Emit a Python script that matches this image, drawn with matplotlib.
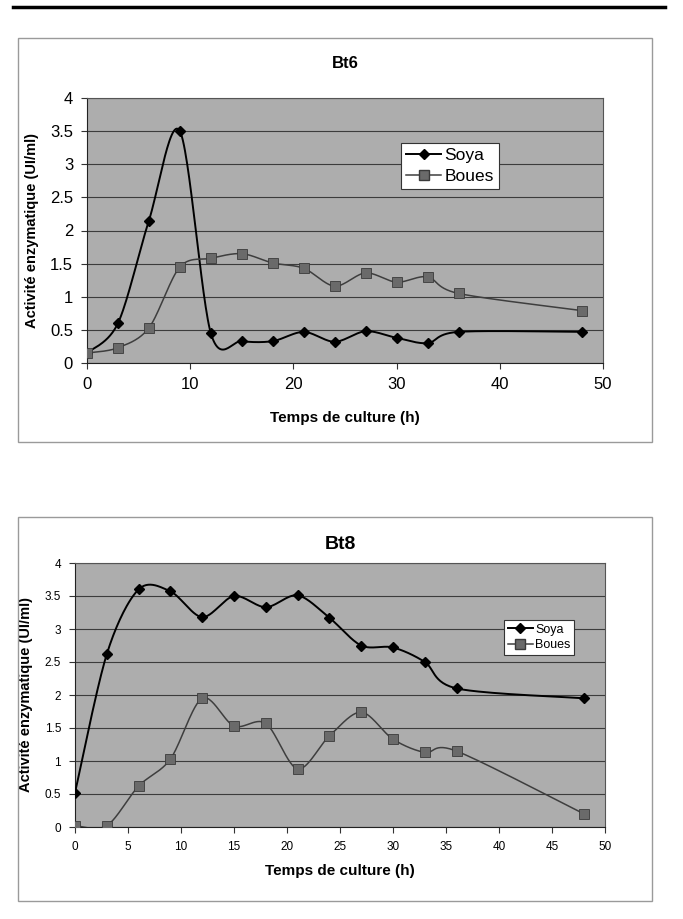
import numpy as np
import matplotlib
matplotlib.use("Agg")
import matplotlib.pyplot as plt
from matplotlib.patches import Rectangle
from matplotlib.lines import Line2D

plt.rcParams['font.family'] = ['Liberation Sans', 'DejaVu Sans']

# temps de culture (h)
hours = [0, 3, 6, 9, 12, 15, 18, 21, 24, 27, 30, 33, 36, 48]

# Bt6
bt6_soya = [0.15, 0.60, 2.15, 3.50, 0.45, 0.33, 0.33, 0.47, 0.32, 0.48, 0.38, 0.30, 0.47, 0.47]
bt6_boues = [0.15, 0.23, 0.53, 1.45, 1.58, 1.65, 1.51, 1.43, 1.16, 1.36, 1.22, 1.30, 1.05, 0.79]

# Bt8
bt8_soya = [0.52, 2.62, 3.60, 3.57, 3.18, 3.50, 3.33, 3.51, 3.17, 2.75, 2.72, 2.50, 2.10, 1.95]
bt8_boues = [0.02, 0.02, 0.62, 1.03, 1.95, 1.53, 1.57, 0.88, 1.38, 1.74, 1.33, 1.13, 1.15, 0.20]

series_names = ['Soya', 'Boues']
y_ticks = [0, 0.5, 1, 1.5, 2, 2.5, 3, 3.5, 4]
y_ticklabels = ['0', '0.5', '1', '1.5', '2', '2.5', '3', '3.5', '4']


def smooth(x, y, n=30):
    # courbe lissée type Excel (Bezier / Catmull-Rom)
    x = np.asarray(x, float)
    y = np.asarray(y, float)
    px = np.concatenate([[x[0]], x, [x[-1]]])
    py = np.concatenate([[y[0]], y, [y[-1]]])
    xs, ys = [], []
    t = np.linspace(0, 1, n)
    k = 1 / 6.5
    for i in range(1, len(px) - 2):
        p0x, p1x, p2x, p3x = px[i], px[i] + (px[i+1] - px[i-1]) * k, px[i+1] - (px[i+2] - px[i]) * k, px[i+1]
        p0y, p1y, p2y, p3y = py[i], py[i] + (py[i+1] - py[i-1]) * k, py[i+1] - (py[i+2] - py[i]) * k, py[i+1]
        b0 = (1 - t) ** 3
        b1 = 3 * (1 - t) ** 2 * t
        b2 = 3 * (1 - t) * t ** 2
        b3 = t ** 3
        xs.append(b0 * p0x + b1 * p1x + b2 * p2x + b3 * p3x)
        ys.append(b0 * p0y + b1 * p1y + b2 * p2y + b3 * p3y)
    return np.concatenate(xs), np.concatenate(ys)


fig = plt.figure(figsize=(6.83, 9.19), dpi=100)

# trait en haut de page
fig.add_artist(Line2D([13 / 683, 665 / 683], [1 - 7 / 919, 1 - 7 / 919], color='black', lw=2.5))

# cadres des graphiques
fig.add_artist(Rectangle((18 / 683, 1 - 442 / 919), 634 / 683, 404 / 919, fill=False, ec='#9a9a9a', lw=1))
fig.add_artist(Rectangle((18 / 683, 1 - 901 / 919), 634 / 683, 384 / 919, fill=False, ec='#9a9a9a', lw=1))


def draw(ax, soya, boues, title, xticks, tick_fs, title_fs, leg_fs, leg_bbox, title_y, xpad):
    ax.set_facecolor('#adadad')
    xs, ys = smooth(hours, soya)
    ax.plot(xs, ys, color='black', lw=1.4, zorder=3)
    ax.plot(hours, soya, ls='none', marker='D', ms=5, color='black', zorder=4)
    xb, yb = smooth(hours, boues)
    ax.plot(xb, yb, color='#3e3e3e', lw=1.1, zorder=3)
    ax.plot(hours, boues, ls='none', marker='s', ms=6.5, mfc='#6a6a6a', mec='#3a3a3a', mew=0.6, zorder=4)

    ax.set_xlim(0, 50)
    ax.set_ylim(0, 4)
    ax.set_xticks(xticks)
    ax.set_xticklabels([str(v) for v in xticks], fontsize=tick_fs)
    ax.set_yticks(y_ticks)
    ax.set_yticklabels(y_ticklabels, fontsize=tick_fs)
    ax.tick_params(direction='out', length=4, width=0.8, color='#333333', pad=6)
    ax.yaxis.grid(True, color='#3c3c3c', lw=0.8)
    ax.set_axisbelow(True)
    for s in ['left', 'bottom']:
        ax.spines[s].set_color('#222222')
    for s in ['top', 'right']:
        ax.spines[s].set_color('#555555')

    ax.set_xlabel('Temps de culture (h)', fontsize=11, fontweight='bold', labelpad=xpad)
    ax.set_ylabel('Activité enzymatique (UI/ml)', fontsize=10.5, fontweight='bold', labelpad=8)
    ax.set_title(title, fontsize=title_fs, fontweight='bold', y=title_y)

    handles = [
        Line2D([], [], color='black', lw=1.4, marker='D', ms=5),
        Line2D([], [], color='#3e3e3e', lw=1.1, marker='s', ms=6.5, mfc='#6a6a6a', mec='#3a3a3a'),
    ]
    leg = ax.legend(handles, series_names, loc='upper left', bbox_to_anchor=leg_bbox,
                    fontsize=leg_fs, frameon=True, fancybox=False, framealpha=1,
                    edgecolor='#333333', handlelength=2.0, handletextpad=0.2,
                    borderpad=0.3, labelspacing=0.3, borderaxespad=0)
    leg.get_frame().set_linewidth(0.8)


ax1 = fig.add_axes([87 / 683, 1 - 363 / 919, 516 / 683, 265 / 919])
draw(ax1, bt6_soya, bt6_boues, 'Bt6', [0, 10, 20, 30, 40, 50], 12, 12, 12.5,
     ((401 - 87) / 516, (363 - 143) / 265), 1.08, 14)

ax2 = fig.add_axes([75 / 683, 1 - 827 / 919, 530 / 683, 264 / 919])
draw(ax2, bt8_soya, bt8_boues, 'Bt8', [0, 5, 10, 15, 20, 25, 30, 35, 40, 45, 50], 8.5, 14, 9,
     ((504 - 75) / 530, (827 - 620) / 264), 1.02, 8)

fig.savefig('out.png', dpi=100)
